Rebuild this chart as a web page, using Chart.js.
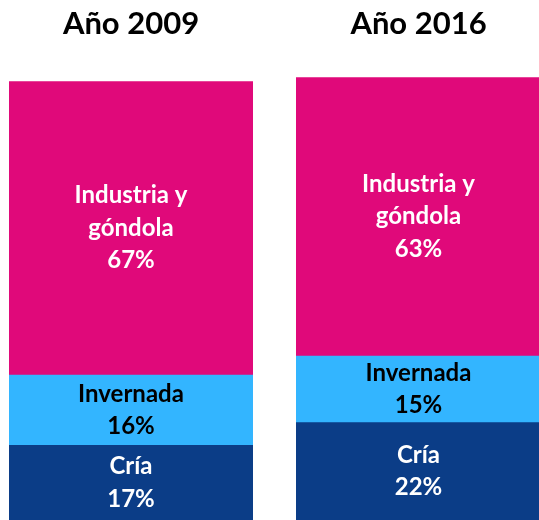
<!DOCTYPE html>
<html>
<head>
<meta charset="utf-8">
<script src="https://cdn.jsdelivr.net/npm/chart.js"></script>
<style>
  html, body { margin: 0; padding: 0; background: #fff; overflow: hidden; }
  body { width: 539px; height: 520px; position: relative; }
  canvas { position: absolute; top: 0; }
</style>
</head>
<body>
<canvas id="chart2009" width="244" height="520" style="left:9px"></canvas>
<canvas id="chart2016" width="245" height="520" style="left:296px"></canvas>
<script>
// Data
const years = ['Año 2009', 'Año 2016'];
const segmentNames = ['Cría', 'Invernada', 'Industria y góndola'];
const cria = [17, 22];
const invernada = [16, 15];
const industria = [67, 63];

const segmentColors = ['#0B3D87', '#33B5FF', '#E0097A'];
const labelColors = ['#ffffff', '#000000', '#ffffff'];
// label lines inside each segment (name can wrap onto two lines)
const labelLines = [['Cría'], ['Invernada'], ['Industria y', 'góndola']];

const FONT = "Lato, 'Open Sans', sans-serif";

// draws name + percentage centered in each stacked segment
const segmentLabels = {
    id: 'segmentLabels',
    afterDatasetsDraw(chart) {
        const ctx = chart.ctx;
        ctx.save();
        ctx.font = 'bold 24px ' + FONT;
        ctx.textAlign = 'center';
        ctx.textBaseline = 'middle';
        chart.data.datasets.forEach((ds, i) => {
            const bar = chart.getDatasetMeta(i).data[0];
            const cy = (bar.y + bar.base) / 2;
            const lines = labelLines[i].concat([ds.data[0] + '%']);
            const lh = 32.5;
            const y0 = cy - (lines.length - 1) * lh / 2;
            ctx.fillStyle = labelColors[i];
            lines.forEach((t, k) => ctx.fillText(t, bar.x, y0 + k * lh));
        });
        ctx.restore();
    }
};

function makeChart(id, idx, titleBottom) {
    const series = [cria, invernada, industria];
    new Chart(document.getElementById(id), {
        type: 'bar',
        data: {
            labels: [years[idx]],
            datasets: series.map((s, i) => ({
                label: segmentNames[i],
                data: [s[idx]],
                backgroundColor: segmentColors[i],
                borderWidth: 0,
                barPercentage: 1,
                categoryPercentage: 1
            }))
        },
        options: {
            responsive: false,
            animation: false,
            layout: { padding: 0 },
            plugins: {
                legend: { display: false },
                tooltip: { enabled: false },
                title: {
                    display: true,
                    text: years[idx],
                    color: '#000',
                    font: { family: FONT, size: 31, weight: 'bold', lineHeight: 1.2 },
                    padding: { top: 5, bottom: titleBottom }
                }
            },
            scales: {
                x: { display: false, stacked: true },
                y: { display: false, stacked: true, min: 0, max: 100 }
            }
        },
        plugins: [segmentLabels]
    });
}

makeChart('chart2009', 0, 39);
makeChart('chart2016', 1, 35);
</script>
</body>
</html>
